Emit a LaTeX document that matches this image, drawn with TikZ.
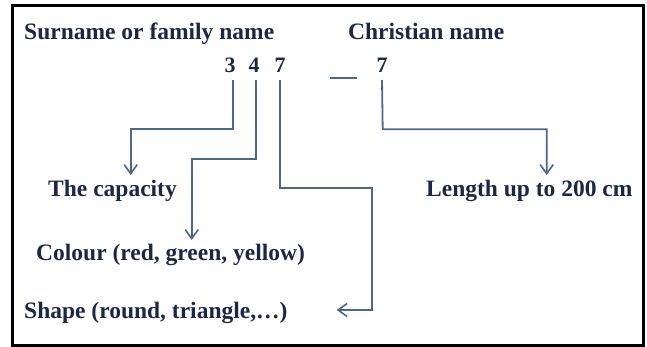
\documentclass[tikz,border=0pt]{standalone}
\usepackage{fontspec}
\setmainfont{Liberation Serif}
\usetikzlibrary{arrows.meta}
\definecolor{txt}{HTML}{1C2745}
\definecolor{ln}{HTML}{4E6788}
\tikzset{
  x=1pt, y=-1pt,
  lbl/.style={inner sep=0pt, anchor=base west, text=txt, font=\fontsize{23.5}{28}\selectfont\bfseries},
  dig/.style={inner sep=0pt, anchor=base, text=txt, font=\fontsize{22}{26}\selectfont\bfseries},
  conn/.style={draw=ln, line width=1.8pt},
  arr/.style={conn, -{Straight Barb[length=9pt,width=13pt,line width=1.6pt]}},
}
\begin{document}
\begin{tikzpicture}
\useasboundingbox (0,0) rectangle (647,347);
\draw[line width=3pt, black] (12,6) rectangle (643,345);
% headings
\node[lbl] (sur) at (24,40) {Surname or family name};
\node[lbl] (chr) at (348,40) {Christian name};
% digits
\node[dig] (d3) at (230,72.5) {3};
\node[dig] (d4) at (254,72.5) {4};
\node[dig] (d7) at (280,72.5) {7};
\node[dig] (c7) at (382,72.5) {7};
\draw[conn] (330,78.3) -- (356.7,78.3);
% labels
\node[lbl] (cap) at (48,196.7) {The capacity};
\node[lbl] (col) at (36,260.7) {Colour (red, green, yellow)};
\node[lbl] (shp) at (24,318) {Shape (round, triangle,\dots)};
\node[lbl] (len) at (426,196.7) {Length up to 200 cm};
% arrow tips
\coordinate (t1) at (130.7,175);
\coordinate (t2) at (191.7,240);
\coordinate (t3) at (336.7,310);
\coordinate (t4) at (546.7,175);
% connectors
\draw[arr] ([xshift=2.7pt]d3.base |- 0,80) -- (232.7,129.3) -| (t1);
\draw[arr] ([xshift=2pt]d4.base |- 0,80) -- (256,159) -| (t2);
\draw[arr] (d7.base |- 0,80) -- (280,187.7) -- (371.7,187.7) |- (t3);
\draw[arr] (c7.base |- 0,80) -- (382.7,129.3) -| (t4);
\end{tikzpicture}
\end{document}
